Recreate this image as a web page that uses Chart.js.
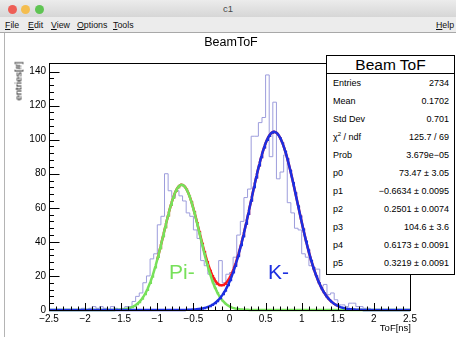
<!DOCTYPE html>
<html>
<head>
<meta charset="utf-8">
<title>c1</title>
<script src="https://cdn.jsdelivr.net/npm/chart.js@4.4.1/dist/chart.umd.min.js"></script>
<style>
  body { margin: 0; width: 456px; height: 337px; overflow: hidden; background: #fff;
         font-family: 'Liberation Sans', Arial, sans-serif; position: relative; }
  #titlebar { position: absolute; left: 0; top: 0; width: 456px; height: 17px;
              background: linear-gradient(#ececec, #d6d6d6); }
  .light { position: absolute; top: 5px; width: 9px; height: 9px; border-radius: 50%; }
  #wintitle { position: absolute; left: 0; width: 456px; top: 3px; text-align: center;
              font-size: 9.5px; color: #4a4a4a; }
  #menubar { position: absolute; left: 0; top: 17px; width: 456px; height: 15px;
             background: #ececec; border-bottom: 1px solid #a8a8a8; font-size: 8.8px; color: #111; }
  #menubar span { position: absolute; top: 3px; }
  #menubar u { text-decoration: underline; }
  #leftedge { position: absolute; left: 4px; top: 33px; width: 0; height: 304px; border-left: 1px solid #b4b4b4; }
  #chart { position: absolute; left: 0; top: 0; }
  .txt { position: absolute; white-space: nowrap; color: #000; }
  #stats { position: absolute; left: 326px; top: 55px; width: 127px; height: 218px;
           border: 1px solid #000; background: #fff; z-index: 5; font-size: 9px; }
  #stats .head { height: 17px; border-bottom: 1px solid #000; text-align: center;
                 font-size: 15.5px; line-height: 18px; }
  #stats .row { display: flex; justify-content: space-between; height: 18px; line-height: 18px;
                padding: 0 5px 0 6px; }
</style>
</head>
<body>
<div id="titlebar">
  <div class="light" style="left:8px;background:#ee5e56"></div>
  <div class="light" style="left:21px;background:#f4bd4f"></div>
  <div class="light" style="left:35px;background:#5fc453"></div>
  <div id="wintitle">c1</div>
</div>
<div id="menubar">
  <span style="left:5px"><u>F</u>ile</span>
  <span style="left:28px"><u>E</u>dit</span>
  <span style="left:51px"><u>V</u>iew</span>
  <span style="left:77px"><u>O</u>ptions</span>
  <span style="left:113px"><u>T</u>ools</span>
  <span style="left:436px"><u>H</u>elp</span>
</div>
<div id="leftedge"></div>
<canvas id="chart" width="456" height="337"></canvas>
<div class="txt" style="left:0;width:462px;text-align:center;top:35px;font-size:12.5px">BeamToF</div>
<div class="txt" style="left:-3px;top:77px;font-size:9.5px;line-height:11px;transform:rotate(-90deg);transform-origin:center;width:42px;text-align:right">entries[#]</div>
<div class="txt" style="left:340px;width:71px;text-align:right;top:322px;font-size:9.5px">ToF[ns]</div>
<div class="txt" style="left:169px;top:260px;font-size:21px;color:#77e05a">Pi-</div>
<div class="txt" style="left:268px;top:260px;font-size:21px;color:#1c2fe0">K-</div>
<div id="stats">
  <div class="head">Beam ToF</div>
  <div class="row"><span>Entries</span><span>2734</span></div>
  <div class="row"><span>Mean</span><span>0.1702</span></div>
  <div class="row"><span>Std Dev</span><span>0.701</span></div>
  <div class="row"><span>&chi;<sup style="font-size:6px;line-height:0">2</sup> / ndf</span><span>125.7 / 69</span></div>
  <div class="row"><span>Prob</span><span>3.679e&minus;05</span></div>
  <div class="row"><span>p0</span><span>73.47 &plusmn; 3.05</span></div>
  <div class="row"><span>p1</span><span>&minus;0.6634 &plusmn; 0.0095</span></div>
  <div class="row"><span>p2</span><span>0.2501 &plusmn; 0.0074</span></div>
  <div class="row"><span>p3</span><span>104.6 &plusmn; 3.6</span></div>
  <div class="row"><span>p4</span><span>0.6173 &plusmn; 0.0091</span></div>
  <div class="row"><span>p5</span><span>0.3219 &plusmn; 0.0091</span></div>
</div>
<script>
  // histogram: 100 bins of 0.05 from -2.5 to 2.5
  var histLow = -2.5;
  var binWidth = 0.05;
  var counts = [
    0, 0, 0, 0, 0, 0, 0, 0, 0, 0,
    1, 0, 1, 2, 1, 2, 1, 0, 2, 1,
    0, 1, 2, 2, 5, 8, 10, 16, 20, 30,
    33, 50, 55, 80, 70, 66, 70, 67, 64, 57,
    55, 47, 42, 29, 26, 21, 19, 15, 29, 16,
    21, 22, 31, 44, 52, 66, 71, 102, 102, 110,
    113, 138, 90, 122, 77, 81, 91, 63, 57, 48,
    47, 33, 31, 26, 24, 24, 14, 15, 9, 10,
    6, 3, 3, 2, 4, 4, 2, 2, 1, 1,
    0, 0, 0, 0, 0, 0, 0, 0, 0, 0
  ];

  // fit parameters (p0..p2 pion gaussian, p3..p5 kaon gaussian)
  var piPar = [73.47, -0.6634, 0.2501];
  var kPar = [104.6, 0.6173, 0.3219];
  var totalRange = [-1.0, 1.5];

  var xRange = [-2.5, 2.5];
  var yRange = [0, 145];

  function gaus(p, x) {
    var z = (x - p[1]) / p[2];
    return p[0] * Math.exp(-0.5 * z * z);
  }

  function curve(fn, lo, hi) {
    var pts = [];
    var n = Math.round((hi - lo) / 0.01);
    for (var i = 0; i <= n; i++) {
      var x = lo + (hi - lo) * i / n;
      pts.push({ x: x, y: fn(x) });
    }
    return pts;
  }

  var histPts = counts.map(function (c, i) { return { x: histLow + i * binWidth, y: c }; });
  histPts.push({ x: histLow + counts.length * binWidth, y: counts[counts.length - 1] });

  function fmtX(v) {
    var s = String(Math.abs(Math.round(v * 10) / 10));
    return v < -1e-9 ? '\u2212' + s : s;
  }

  var rootAxes = {
    id: 'rootAxes',
    afterDraw: function (chart) {
      var ctx = chart.ctx, a = chart.chartArea, xs = chart.scales.x, ys = chart.scales.y;
      ctx.save();
      ctx.strokeStyle = '#000';
      ctx.lineWidth = 1;
      ctx.strokeRect(a.left + 0.5, a.top + 0.5, a.right - a.left, a.bottom - a.top);
      ctx.beginPath();
      xs.ticks.forEach(function (t) {
        var k = Math.round(t.value * 10);
        var px = Math.round(xs.getPixelForValue(t.value)) + 0.5;
        var len = k % 5 === 0 ? 7 : 3.5;
        ctx.moveTo(px, a.bottom);
        ctx.lineTo(px, a.bottom - len);
      });
      ys.ticks.forEach(function (t) {
        if (Math.round(t.value) % 4 !== 0) return;
        var py = Math.round(ys.getPixelForValue(t.value)) + 0.5;
        var len = Math.round(t.value) % 20 === 0 ? 10.5 : 5;
        ctx.moveTo(a.left, py);
        ctx.lineTo(a.left + len, py);
      });
      ctx.stroke();
      ctx.restore();
    }
  };

  new Chart(document.getElementById('chart'), {
    type: 'line',
    data: {
      datasets: [
        {
          label: 'K-',
          data: curve(function (x) { return gaus(kPar, x); }, xRange[0], xRange[1]),
          borderColor: '#1c2fe0', borderWidth: 2.5, pointRadius: 0, order: 0, clip: false
        },
        {
          label: 'Pi-',
          data: curve(function (x) { return gaus(piPar, x); }, xRange[0], xRange[1]),
          borderColor: '#77e05a', borderWidth: 2.5, pointRadius: 0, order: 1, clip: false
        },
        {
          label: 'total',
          data: curve(function (x) { return gaus(piPar, x) + gaus(kPar, x); }, totalRange[0], totalRange[1]),
          borderColor: '#ff1a1a', borderWidth: 2.5, pointRadius: 0, order: 2
        },
        {
          label: 'BeamToF',
          data: histPts,
          stepped: 'after',
          borderColor: '#9d9ddc', borderWidth: 1, pointRadius: 0, order: 3
        }
      ]
    },
    options: {
      responsive: false,
      animation: false,
      devicePixelRatio: 1,
      layout: { padding: { left: 20, right: 46, top: 63, bottom: 5 } },
      plugins: { legend: { display: false }, tooltip: { enabled: false } },
      scales: {
        x: {
          type: 'linear', min: xRange[0], max: xRange[1],
          afterFit: function (s) { s.height = 22; },
          border: { display: false },
          grid: { display: false, drawTicks: false },
          ticks: {
            stepSize: 0.1, autoSkip: false, maxRotation: 0, padding: 3,
            color: '#000', font: { family: 'Liberation Sans', size: 10 },
            callback: function (v) { return Math.round(v * 10) % 5 === 0 ? fmtX(v) : ''; }
          }
        },
        y: {
          type: 'linear', min: yRange[0], max: yRange[1],
          afterFit: function (s) { s.width = 29; },
          border: { display: false },
          grid: { display: false, drawTicks: false },
          ticks: {
            stepSize: 4, autoSkip: false, padding: 3,
            color: '#000', font: { family: 'Liberation Sans', size: 10 },
            callback: function (v) { return Math.round(v) % 20 === 0 && v <= 140 ? String(v) : ''; }
          }
        }
      }
    },
    plugins: [rootAxes]
  });
</script>
</body>
</html>
